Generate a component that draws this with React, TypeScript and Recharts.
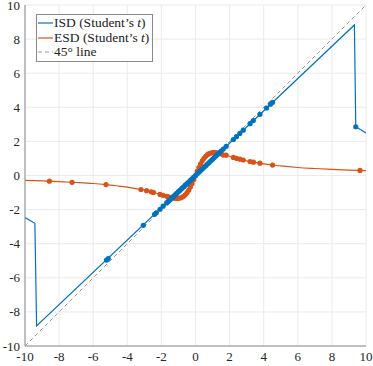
import React from 'react'
import {
  ComposedChart,
  Line,
  Scatter,
  XAxis,
  YAxis,
  CartesianGrid,
  Legend,
} from 'recharts'

// ISD (Student's t) — piecewise line
const isdLine = [
  { x: -10, y: -2.47 },
  { x: -9.42, y: -2.8 },
  { x: -9.32, y: -8.82 },
  { x: 9.32, y: 8.83 },
  { x: 9.4, y: 2.86 },
  { x: 10, y: 2.5 },
]

// sample points drawn as markers on the ISD line
const isdMarkers = [
  { x: -5.22, y: -4.96 }, { x: -5.12, y: -4.87 },
  { x: -3.06, y: -2.92 }, { x: -2.4, y: -2.28 }, { x: -2.3, y: -2.19 },
  { x: -2.08, y: -1.98 }, { x: -1.9, y: -1.8 }, { x: -1.69, y: -1.61 },
  { x: -1.6, y: -1.52 }, { x: -1.5, y: -1.43 }, { x: -1.4, y: -1.33 },
  { x: -1.3, y: -1.24 }, { x: -1.2, y: -1.14 }, { x: -1.1, y: -1.05 },
  { x: -1.0, y: -0.95 }, { x: -0.9, y: -0.86 }, { x: -0.8, y: -0.76 },
  { x: -0.7, y: -0.67 }, { x: -0.6, y: -0.57 }, { x: -0.5, y: -0.48 },
  { x: -0.4, y: -0.38 }, { x: -0.3, y: -0.29 }, { x: -0.2, y: -0.19 },
  { x: -0.1, y: -0.1 }, { x: 0, y: 0 }, { x: 0.1, y: 0.1 },
  { x: 0.2, y: 0.19 }, { x: 0.3, y: 0.29 }, { x: 0.4, y: 0.38 },
  { x: 0.5, y: 0.48 }, { x: 0.6, y: 0.57 }, { x: 0.7, y: 0.67 },
  { x: 0.8, y: 0.76 }, { x: 0.9, y: 0.86 }, { x: 1.0, y: 0.95 },
  { x: 1.1, y: 1.05 }, { x: 1.2, y: 1.14 }, { x: 1.3, y: 1.24 },
  { x: 1.4, y: 1.33 }, { x: 1.5, y: 1.43 }, { x: 1.63, y: 1.55 },
  { x: 1.8, y: 1.71 }, { x: 2.22, y: 2.11 }, { x: 2.4, y: 2.28 },
  { x: 2.6, y: 2.47 }, { x: 2.8, y: 2.66 }, { x: 3.2, y: 3.04 },
  { x: 3.39, y: 3.22 }, { x: 3.78, y: 3.59 }, { x: 4.17, y: 3.96 },
  { x: 4.4, y: 4.18 }, { x: 4.52, y: 4.29 },
  { x: 9.4, y: 2.86 },
]

// ESD (Student's t) — smooth curve
const esdLine = [
  { x: -10, y: -0.29 }, { x: -9, y: -0.32 }, { x: -8, y: -0.36 },
  { x: -7, y: -0.41 }, { x: -6, y: -0.47 }, { x: -5, y: -0.56 },
  { x: -4.5, y: -0.62 }, { x: -4, y: -0.68 }, { x: -3.5, y: -0.77 },
  { x: -3, y: -0.86 }, { x: -2.5, y: -0.98 }, { x: -2.2, y: -1.07 },
  { x: -1.9, y: -1.16 }, { x: -1.6, y: -1.25 }, { x: -1.4, y: -1.3 },
  { x: -1.2, y: -1.34 }, { x: -1.0, y: -1.34 }, { x: -0.9, y: -1.32 },
  { x: -0.8, y: -1.28 }, { x: -0.7, y: -1.22 }, { x: -0.6, y: -1.13 },
  { x: -0.5, y: -1.01 }, { x: -0.4, y: -0.86 }, { x: -0.3, y: -0.68 },
  { x: -0.2, y: -0.47 }, { x: -0.1, y: -0.24 }, { x: 0, y: 0 },
  { x: 0.1, y: 0.24 }, { x: 0.2, y: 0.47 }, { x: 0.3, y: 0.68 },
  { x: 0.4, y: 0.86 }, { x: 0.5, y: 1.01 }, { x: 0.6, y: 1.13 },
  { x: 0.7, y: 1.22 }, { x: 0.8, y: 1.28 }, { x: 0.9, y: 1.32 },
  { x: 1.0, y: 1.34 }, { x: 1.2, y: 1.34 }, { x: 1.4, y: 1.3 },
  { x: 1.6, y: 1.25 }, { x: 1.9, y: 1.16 }, { x: 2.2, y: 1.07 },
  { x: 2.5, y: 0.98 }, { x: 3, y: 0.86 }, { x: 3.5, y: 0.77 },
  { x: 4, y: 0.68 }, { x: 4.5, y: 0.62 }, { x: 5, y: 0.56 },
  { x: 6, y: 0.47 }, { x: 7, y: 0.41 }, { x: 8, y: 0.36 },
  { x: 9, y: 0.32 }, { x: 10, y: 0.29 },
]

const esdMarkers = [
  { x: -8.57, y: -0.33 }, { x: -7.24, y: -0.4 }, { x: -5.25, y: -0.53 },
  { x: -3.2, y: -0.82 }, { x: -2.87, y: -0.89 }, { x: -2.6, y: -0.96 },
  { x: -2.47, y: -0.99 }, { x: -2.08, y: -1.11 }, { x: -1.9, y: -1.16 },
  { x: -1.69, y: -1.22 }, { x: -1.6, y: -1.25 }, { x: -1.5, y: -1.28 },
  { x: -1.4, y: -1.3 }, { x: -1.3, y: -1.32 }, { x: -1.2, y: -1.34 },
  { x: -1.1, y: -1.34 }, { x: -1.0, y: -1.34 }, { x: -0.9, y: -1.32 },
  { x: -0.8, y: -1.28 }, { x: -0.7, y: -1.22 }, { x: -0.6, y: -1.13 },
  { x: -0.5, y: -1.01 }, { x: -0.4, y: -0.86 }, { x: -0.3, y: -0.68 },
  { x: -0.2, y: -0.47 }, { x: -0.1, y: -0.24 }, { x: 0, y: 0 },
  { x: 0.1, y: 0.24 }, { x: 0.2, y: 0.47 }, { x: 0.3, y: 0.68 },
  { x: 0.4, y: 0.86 }, { x: 0.5, y: 1.01 }, { x: 0.6, y: 1.13 },
  { x: 0.7, y: 1.22 }, { x: 0.8, y: 1.28 }, { x: 0.9, y: 1.32 },
  { x: 1.0, y: 1.34 }, { x: 1.1, y: 1.34 }, { x: 1.2, y: 1.34 },
  { x: 1.3, y: 1.32 }, { x: 1.4, y: 1.3 }, { x: 1.5, y: 1.28 },
  { x: 1.63, y: 1.2 }, { x: 1.8, y: 1.19 }, { x: 2.22, y: 1.06 },
  { x: 2.4, y: 1.01 }, { x: 2.6, y: 0.96 }, { x: 2.8, y: 0.91 },
  { x: 3.2, y: 0.82 }, { x: 3.4, y: 0.78 }, { x: 3.78, y: 0.72 },
  { x: 4.52, y: 0.61 }, { x: 9.65, y: 0.3 },
]

const diagLine = [
  { x: -10, y: -10 },
  { x: 10, y: 10 },
]

const ticks = [-10, -8, -6, -4, -2, 0, 2, 4, 6, 8, 10]

const BLUE = '#0072BD'
const ORANGE = '#D95319'
const GREY = '#9a9a9a'
const FONT = "'Liberation Serif', 'Times New Roman', serif"

const dot = (color: string) => (props: any) => (
  <circle cx={props.cx} cy={props.cy} r={2.6} fill={color} />
)

// tick labels as plain svg text so the serif font sticks
const XTick = (props: any) => (
  <text x={props.x} y={props.y + 13} textAnchor="middle" style={{ fontFamily: FONT }} fontSize={13} fill="#262626">
    {props.payload.value}
  </text>
)
const YTick = (props: any) => (
  <text x={props.x - 3} y={props.y + 4.5} textAnchor="end" style={{ fontFamily: FONT }} fontSize={13} fill="#262626">
    {props.payload.value}
  </text>
)

const LegendBox = () => {
  const row = (sample: React.ReactNode, label: React.ReactNode) => (
    <div style={{ display: 'flex', alignItems: 'center', height: 14.5 }}>
      <svg width={15} height={10} style={{ marginRight: 1 }}>{sample}</svg>
      <span>{label}</span>
    </div>
  )
  return (
    <div
      style={{
        border: '1px solid #8a8a8a',
        background: '#fff',
        padding: '1px 0 1px 1px',
        fontFamily: FONT,
        fontSize: 13.5,
        color: '#222',
        lineHeight: '14px',
        width: 114,
        whiteSpace: 'nowrap',
      }}
    >
      {row(<line x1={0} y1={5} x2={15} y2={5} stroke={BLUE} strokeWidth={1.2} />,
        <>ISD (Student’s <i>t</i>)</>)}
      {row(<line x1={0} y1={5} x2={15} y2={5} stroke={ORANGE} strokeWidth={1.2} />,
        <>ESD (Student’s <i>t</i>)</>)}
      {row(<line x1={0} y1={5} x2={15} y2={5} stroke={GREY} strokeWidth={1} strokeDasharray="4 3" />,
        <>45° line</>)}
    </div>
  )
}

export default function App() {
  return (
    <div style={{ position: 'absolute', left: 0, top: 0, width: 373, height: 366, background: '#fff', fontFamily: FONT }}>
      <ComposedChart
        width={373}
        height={366}
        margin={{ top: 5, right: 7, bottom: 0, left: 0 }}
      >
        <CartesianGrid stroke="#ebebeb" strokeWidth={1} />
        <XAxis
          type="number"
          dataKey="x"
          domain={[-10, 10]}
          ticks={ticks}
          interval={0}
          height={20}
          tickSize={0}
          tickLine={false}
          axisLine={{ stroke: '#8a8a8a' }}
          tick={<XTick />}
          allowDataOverflow
        />
        <YAxis
          type="number"
          dataKey="y"
          domain={[-10, 10]}
          ticks={ticks}
          interval={0}
          width={25}
          tickSize={0}
          tickLine={false}
          axisLine={{ stroke: '#8a8a8a' }}
          tick={<YTick />}
          allowDataOverflow
        />
        <Line
          data={diagLine}
          dataKey="y"
          stroke={GREY}
          strokeWidth={1}
          strokeDasharray="4 3"
          dot={false}
          activeDot={false}
          isAnimationActive={false}
          legendType="none"
        />
        <Line
          data={esdLine}
          dataKey="y"
          type="monotone"
          stroke={ORANGE}
          strokeWidth={1.2}
          dot={false}
          activeDot={false}
          isAnimationActive={false}
        />
        <Scatter
          data={esdMarkers}
          dataKey="y"
          fill={ORANGE}
          shape={dot(ORANGE)}
          isAnimationActive={false}
        />
        <Line
          data={isdLine}
          dataKey="y"
          type="linear"
          stroke={BLUE}
          strokeWidth={1.2}
          dot={false}
          activeDot={false}
          isAnimationActive={false}
        />
        <Scatter
          data={isdMarkers}
          dataKey="y"
          fill={BLUE}
          shape={dot(BLUE)}
          isAnimationActive={false}
        />
        <Legend
          layout="vertical"
          verticalAlign="middle"
          align="center"
          content={() => <LegendBox />}
          wrapperStyle={{ left: 36, top: 14, width: 'auto' }}
        />
      </ComposedChart>
    </div>
  )
}
